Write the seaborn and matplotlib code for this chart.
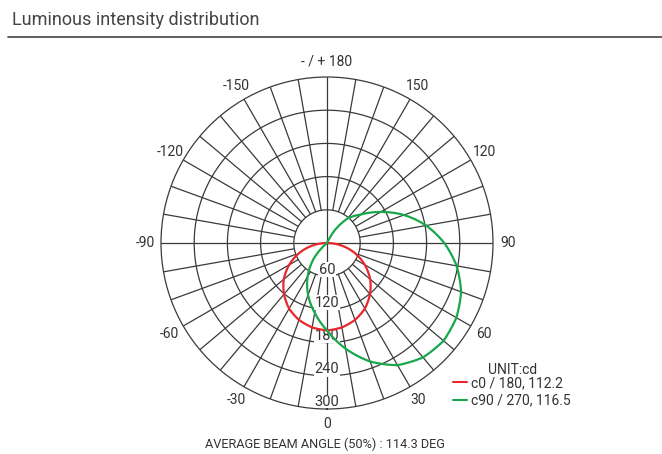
import numpy as np
import pandas as pd
import matplotlib
matplotlib.use("Agg")
import matplotlib.pyplot as plt
from matplotlib import font_manager
from matplotlib.lines import Line2D
import seaborn as sns

# c0/180 plane, angle from nadir (deg) -> intensity (cd)
c0_angle = [-90, -80, -70, -60, -50, -40, -30, -20, -10, 0, 10, 20, 30, 40, 50, 60, 70, 80, 90]
c0_cd = [0, 27, 54, 79, 102, 121, 137, 148, 155, 158, 155, 148, 137, 121, 102, 79, 54, 27, 0]

# c90/270 plane
c90_angle = [-50, -40, -30, -20, -10, 0, 10, 20, 30, 40, 50, 60, 70, 80, 90, 100, 110, 120, 130, 140, 150, 155]
c90_cd = [0, 38, 70, 100, 128, 158, 194, 228, 255, 270, 275, 270, 258, 238, 212, 182, 148, 112, 80, 58, 22, 0]

ring_values = [60, 120, 180, 240, 300]
angle_ticks = [0, 30, 60, 90, 120, 150, 180, 210, 240, 270, 300, 330]
angle_labels = ["0", "30", "60", "90", "120", "150", "- / + 180", "-150", "-120", "-90", "-60", "-30"]
legend_labels = ["c0 / 180, 112.2", "c90 / 270, 116.5"]
beam_text = "AVERAGE BEAM ANGLE (50%) : 114.3 DEG"

sns.set_style("white")
family = "Roboto"
for cand in ["Liberation Sans Narrow", "Roboto"]:
    try:
        font_manager.findfont(cand, fallback_to_default=False)
        family = cand
        break
    except Exception:
        pass
plt.rcParams["font.family"] = [family, "DejaVu Sans"]

df = pd.concat([
    pd.DataFrame({"theta": np.deg2rad(c0_angle), "cd": c0_cd, "curve": "c0"}),
    pd.DataFrame({"theta": np.deg2rad(c90_angle), "cd": c90_cd, "curve": "c90"}),
])

fig = plt.figure(figsize=(6.62, 4.54), dpi=100)
ax = fig.add_axes([0.2432, 0.0991, 0.5015, 0.7313], projection="polar")
ax.set_theta_zero_location("S")
ax.set_theta_direction(1)
ax.set_ylim(0, 300)
ax.grid(False)
ax.set_xticks([])
ax.set_yticks([])
grid_col = "#3a3a3a"
ax.spines["polar"].set_color(grid_col)
ax.spines["polar"].set_linewidth(0.9)

tt = np.linspace(0, 2 * np.pi, 361)
for r in ring_values[:-1]:
    ax.plot(tt, np.full_like(tt, r), color=grid_col, lw=0.9, zorder=1)
for a in range(0, 360, 10):
    r0 = 0 if a % 90 == 0 else 60
    ax.plot([np.deg2rad(a)] * 2, [r0, 300], color=grid_col, lw=0.9, zorder=1)

for r in ring_values:
    ax.text(0, r - 12, str(r), ha="center", va="center", fontsize=10.5, color="#333333",
            bbox=dict(facecolor="white", edgecolor="none", pad=0.3), zorder=2)

for a, lab in zip(angle_ticks, angle_labels):
    ax.text(np.deg2rad(a), 328, lab, ha="center", va="center", fontsize=10,
            color="#333333", clip_on=False)

n_before = len(ax.lines)
palette = {"c0": "#e8262b", "c90": "#16a84a"}
sns.lineplot(data=df, x="theta", y="cd", hue="curve", palette=palette, ax=ax,
             legend=False, sort=False, lw=1.6, zorder=3)
# draw segments as curves in polar space
for line in ax.lines[n_before:]:
    line.get_path()._interpolation_steps = 40
ax.set_xlabel("")
ax.set_ylabel("")
ax.set_ylim(0, 300)

fig.text(0.775, 0.185, "UNIT:cd", fontsize=10, color="#333333", ha="center", va="center")
handles = [Line2D([0], [0], color=palette["c0"], lw=1.5),
           Line2D([0], [0], color=palette["c90"], lw=1.5)]
leg = fig.legend(handles, legend_labels, loc="upper left",
                 bbox_to_anchor=(0.684, 0.172), frameon=False, fontsize=10,
                 handlelength=1.0, handletextpad=0.3,
                 labelspacing=0.25, borderpad=0, borderaxespad=0)
for t in leg.get_texts():
    t.set_color("#333333")

fig.text(0.018, 0.955, "Luminous intensity distribution", fontsize=13,
         color="#444444", ha="left", va="center")
fig.add_artist(Line2D([0.012, 1.0], [0.918, 0.918], color="#444444", lw=1.2))
fig.text(0.491, 0.022, beam_text, fontsize=9.2, color="#333333", ha="center", va="center")

fig.savefig("out.png", dpi=100)
